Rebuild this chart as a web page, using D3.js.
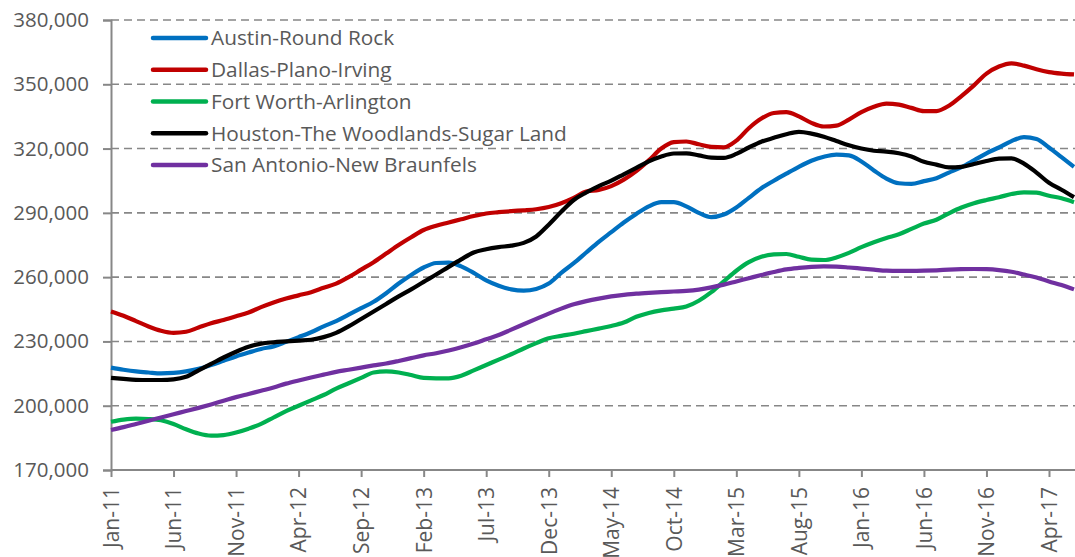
<!DOCTYPE html>
<html>
<head>
<meta charset="utf-8">
<script src="https://cdn.jsdelivr.net/npm/d3@7"></script>
<style>
  body { margin: 0; background: #fff; }
  text { font-family: 'Open Sans', sans-serif; fill: #595959; }
</style>
</head>
<body>
<div class="chart"></div>
<script>
// data (thousands of dollars, monthly Jan-11 .. Jun-17)
const monthNames = ['Jan','Feb','Mar','Apr','May','Jun','Jul','Aug','Sep','Oct','Nov','Dec'];
var months = [];
for (var yr = 11; yr <= 17; yr++) {
    for (var m = 0; m < 12; m++) {
        if (yr === 17 && m > 5) break;
        months.push(monthNames[m] + '-' + yr);
    }
}

const seriesNames = ['Austin-Round Rock', 'Dallas-Plano-Irving', 'Fort Worth-Arlington',
                     'Houston-The Woodlands-Sugar Land', 'San Antonio-New Braunfels'];
const seriesColors = ['#0070C0', '#C00000', '#00B050', '#000000', '#7030A0'];

var austin = [217.8, 216.8, 216, 215.5, 215.1, 215.3, 216, 217.2, 219, 221, 223, 224.8, 226.5, 227.7,
    229.8, 232, 234.3, 237, 239.5, 242.5, 245.5, 248.5, 252.5, 257, 261, 264.5, 266.6, 266.8,
    265, 262, 258.5, 256, 254.3, 253.7, 254.5, 257, 262, 266.5, 271.5, 276.5, 281, 285.5,
    289.5, 293, 295, 295, 293, 290, 288, 289.2, 292.5, 297, 301.5, 305, 308.3, 311.5,
    314.3, 316.2, 317.2, 316.8, 314, 309.8, 306, 303.8, 303.5, 304.8, 306.2, 308.8, 311.3, 314.5,
    317.8, 320.5, 323.5, 325.3, 324.5, 320.5, 316, 311.5];
var dallas = [244, 242, 239.5, 237, 235, 234, 234.5, 236.5, 238.5, 240, 241.7, 243.5, 246, 248.2,
    250, 251.5, 253, 255, 257, 260, 263.5, 267, 271, 275, 278.6, 282, 284, 285.5,
    287, 288.5, 289.7, 290.3, 290.8, 291.2, 291.7, 292.7, 294.5, 297, 300, 300.7, 302.5, 305.5,
    309.5, 314.5, 320, 323, 323.3, 322, 320.8, 320.6, 323.7, 329.5, 334, 336.6, 337, 335,
    332, 330.3, 330.7, 333.5, 337, 339.5, 341, 340.5, 339, 337.5, 337.5, 340, 344.5, 349.5,
    355, 358.3, 359.8, 358.7, 357, 355.7, 355, 354.6];
var fortWorth = [192.5, 193.5, 194, 193.8, 193.2, 191.5, 189, 187, 186, 186.3, 187.5, 189.3, 191.5, 194.5,
    197.5, 200, 202.5, 205, 208, 210.5, 213, 215.5, 216, 215.5, 214.3, 213, 212.8, 212.8,
    214, 216.5, 219, 221.5, 224, 226.7, 229.2, 231.5, 232.6, 233.6, 234.8, 236, 237.2, 238.8,
    241.5, 243.3, 244.5, 245.3, 246.3, 249, 253, 258, 263, 267, 269.5, 270.6, 270.8, 269.5,
    268.2, 268, 269.2, 271.3, 274, 276.3, 278.3, 280, 282.5, 285, 286.8, 289.8, 292.5, 294.5,
    296, 297.3, 298.8, 299.6, 299.4, 298, 296.8, 295];
var houston = [213, 212.5, 212.1, 212, 212, 212.3, 213.5, 216.5, 219.5, 222.5, 225.2, 227.5, 229, 229.6,
    230, 230.4, 230.8, 232, 234, 237, 240.5, 244, 247.5, 251, 254.3, 257.8, 261.2, 264.8,
    268.3, 271.5, 273, 274, 274.7, 276, 279, 284.5, 290.5, 296, 299.5, 302.5, 305, 308,
    311, 314, 316.3, 317.7, 317.8, 316.8, 315.8, 315.7, 317.5, 320.5, 323.2, 325, 326.7, 327.8,
    327, 325.5, 323.5, 321.5, 320, 319, 318.6, 317.8, 316.3, 313.8, 312.5, 311.2, 311.5, 312.8,
    314.2, 315.3, 315.4, 313, 308.8, 304, 300.8, 297.3];
var sanAntonio = [188.7, 190, 191.5, 193, 194.5, 196, 197.5, 199, 200.6, 202.3, 204, 205.5, 207, 208.5,
    210.3, 211.8, 213.2, 214.5, 215.8, 216.8, 217.8, 218.8, 219.7, 220.9, 222.2, 223.5, 224.5, 225.8,
    227.3, 229, 231, 233, 235.5, 238, 240.5, 243, 245.3, 247.3, 248.8, 250, 251, 251.7,
    252.3, 252.7, 253, 253.3, 253.6, 254.2, 255.2, 256.5, 258, 259.5, 261, 262.4, 263.6, 264.3,
    264.8, 265, 264.9, 264.5, 264, 263.5, 263, 262.9, 262.9, 263, 263.2, 263.5, 263.7, 263.8,
    263.7, 263.3, 262.5, 261.2, 259.8, 258, 256.3, 254.3];
var allSeries = [austin, dallas, fortWorth, houston, sanAntonio];

const yTicks = [170, 200, 230, 260, 290, 320, 350, 380];

// sizes
const width = 1075, height = 557;
var margin = ({top: 20, right: 1, bottom: 87, left: 111});

var svg = d3.select('.chart')
            .append('svg')
            .attr('width', width)
            .attr('height', height);

var x = d3.scalePoint()
          .domain(months)
          .range([margin.left, width - margin.right]);

var y = d3.scaleLinear()
          .domain([170, 380])
          .range([height - margin.bottom, margin.top]);

// dashed gridlines
svg.append('g')
    .selectAll('line')
    .data(yTicks.slice(1))
    .enter()
    .append('line')
    .attr('x1', margin.left)
    .attr('x2', width)
    .attr('y1', d => y(d))
    .attr('y2', d => y(d))
    .attr('stroke', '#878787')
    .attr('stroke-width', 1.6)
    .attr('stroke-dasharray', '8,5');

// y axis
var yAxis = svg.append('g')
    .attr('transform', `translate(${margin.left},0)`)
    .call(d3.axisLeft(y)
            .tickValues(yTicks)
            .tickSize(8)
            .tickPadding(14)
            .tickFormat(d => d3.format(',')(d * 1000)));

// x axis
var xAxis = svg.append('g')
    .attr('transform', `translate(0,${height - margin.bottom})`)
    .call(d3.axisBottom(x)
            .tickValues(months.filter((d, i) => i % 5 === 0))
            .tickSize(7)
            .tickSizeOuter(0));

xAxis.selectAll('text')
    .attr('transform', 'rotate(-90)')
    .attr('x', -17)
    .attr('y', 0)
    .attr('dy', '0.35em')
    .style('text-anchor', 'end');

svg.selectAll('.domain, .tick line')
    .attr('stroke', '#878787')
    .attr('stroke-width', 2);
yAxis.selectAll('.tick text')
    .style('font-size', '20.5px')
    .style('fill', '#595959');
xAxis.selectAll('.tick text')
    .style('font-size', '21px')
    .style('fill', '#595959');
xAxis.select('.domain').attr('d', `M${margin.left},0H${width}`);

// lines
var line = d3.line()
    .x((d, i) => x(months[i]))
    .y(d => y(d))
    .curve(d3.curveMonotoneX);

svg.append('g')
    .selectAll('path')
    .data(allSeries)
    .enter()
    .append('path')
    .attr('d', d => line(d))
    .attr('fill', 'none')
    .attr('stroke', (d, i) => seriesColors[i])
    .attr('stroke-width', 4.2)
    .attr('stroke-linejoin', 'round');

// legend
var legend = svg.append('g')
    .selectAll('.legendItem')
    .data(seriesNames)
    .enter()
    .append('g')
    .attr('class', 'legendItem')
    .attr('transform', (d, i) => `translate(0,${38 + i * 31.75})`);

legend.append('line')
    .attr('x1', 153)
    .attr('x2', 206)
    .attr('stroke', (d, i) => seriesColors[i])
    .attr('stroke-width', 4.5)
    .attr('stroke-linecap', 'round');

legend.append('text')
    .attr('x', 211)
    .attr('dy', '0.35em')
    .text(d => d)
    .style('font-size', '20.8px');
</script>
</body>
</html>
